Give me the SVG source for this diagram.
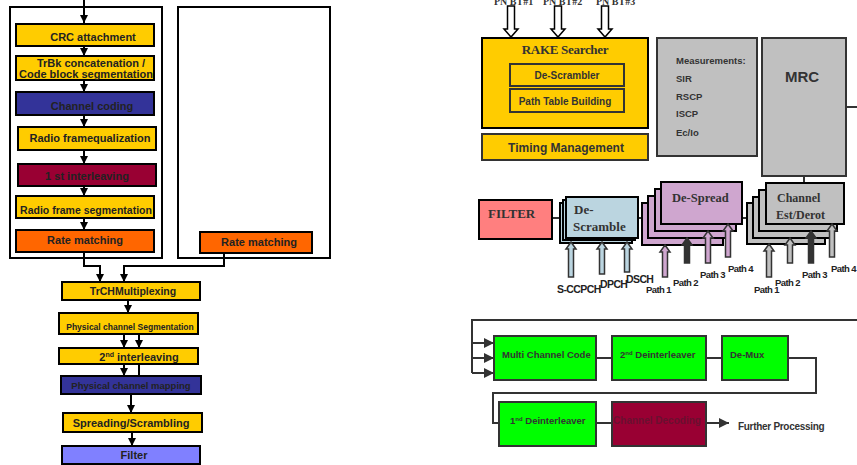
<svg xmlns="http://www.w3.org/2000/svg" width="857" height="465" viewBox="0 0 857 465">
<style>
.t{font-family:"Liberation Sans",Arial,sans-serif;font-weight:bold;fill:#222;}
.s{font-family:"Liberation Serif","Times New Roman",serif;font-weight:bold;fill:#333;}
.bx{stroke:#000;stroke-width:2;}
.gb{stroke:#333;stroke-width:2;}
.y{fill:#FFCC00;}
.db{fill:#333399;}
.mr{fill:#990033;}
.or{fill:#FF6600;}
.gr{fill:#00FF00;stroke:#333;stroke-width:2;}
.gy{fill:#C0C0C0;stroke:#333;stroke-width:2;}
.pu{fill:#CFA6CF;stroke:#000;stroke-width:2;}
.lb{fill:#BBD5E0;stroke:#000;stroke-width:2;}
.ln{fill:none;stroke:#000;stroke-width:2;}
.lg{fill:none;stroke:#333;stroke-width:2;}
.ha{fill:#fff;stroke:#000;stroke-width:1.5;}
.ua{stroke:#333;stroke-width:1.5;}
.pl{font-family:"Liberation Sans",Arial,sans-serif;font-weight:bold;fill:#222;font-size:9.5px;letter-spacing:-0.6px;}
</style>
<defs>
<marker id="ah" markerUnits="userSpaceOnUse" markerWidth="10" markerHeight="8" refX="8" refY="4" orient="auto">
<path d="M0,0 L8,4 L0,8 Z" fill="#000"/>
</marker>
<marker id="ag" markerUnits="userSpaceOnUse" markerWidth="12" markerHeight="10" refX="10" refY="5" orient="auto">
<path d="M0,0 L10,5 L0,10 Z" fill="#333"/>
</marker>
</defs>

<g id="frame-left"><rect x="10" y="7" width="152" height="251" fill="none" stroke="#000" stroke-width="2"/></g>
<g id="frame-right"><rect x="178" y="7" width="152" height="251" fill="none" stroke="#000" stroke-width="2"/></g>

<g id="connectors-left">
<line class="ln" x1="84" y1="0" x2="84" y2="23" marker-end="url(#ah)"/>
<line class="ln" x1="84" y1="46" x2="84" y2="56" marker-end="url(#ah)"/>
<line class="ln" x1="84" y1="80" x2="84" y2="92" marker-end="url(#ah)"/>
<line class="ln" x1="84" y1="115" x2="84" y2="127" marker-end="url(#ah)"/>
<line class="ln" x1="84" y1="150" x2="84" y2="164" marker-end="url(#ah)"/>
<line class="ln" x1="84" y1="186" x2="84" y2="196" marker-end="url(#ah)"/>
<line class="ln" x1="84" y1="218" x2="84" y2="230" marker-end="url(#ah)"/>
<polyline class="ln" points="84,252 84,266 100,266 100,282" marker-end="url(#ah)"/>
<polyline class="ln" points="224,253 224,266 124,266 124,282" marker-end="url(#ah)"/>
<line class="ln" x1="128" y1="300" x2="128" y2="313" marker-end="url(#ah)"/>
<line class="ln" x1="124" y1="334" x2="124" y2="348" marker-end="url(#ah)"/>
<line class="ln" x1="139" y1="334" x2="139" y2="348" marker-end="url(#ah)"/>
<line class="ln" x1="124" y1="364" x2="124" y2="376" marker-end="url(#ah)"/>
<line class="ln" x1="139" y1="364" x2="139" y2="376"/>
<line class="ln" x1="131" y1="394" x2="131" y2="413" marker-end="url(#ah)"/>
<line class="ln" x1="132" y1="432" x2="132" y2="446" marker-end="url(#ah)"/>
</g>

<g id="crc"><rect class="bx y" x="16" y="24" width="138" height="22"/><text class="t" x="93" y="41" font-size="11" text-anchor="middle">CRC attachment</text></g>
<g id="trbk"><rect class="bx y" x="16" y="56" width="138" height="24"/><text class="t" x="91" y="67" font-size="11" text-anchor="middle">TrBk concatenation /</text><text class="t" x="86" y="78" font-size="11" text-anchor="middle">Code block segmentation</text></g>
<g id="chcoding"><rect class="bx db" x="16" y="92" width="138" height="23"/><text class="t" x="92" y="110" font-size="11" text-anchor="middle">Channel coding</text></g>
<g id="rfeq"><rect class="bx y" x="18" y="127" width="138" height="23"/><text class="t" x="90" y="142" font-size="11" text-anchor="middle">Radio framequalization</text></g>
<g id="interleave1"><rect class="bx mr" x="18" y="164" width="138" height="22"/><text class="t" x="87" y="180" font-size="11" text-anchor="middle">1 st interleaving</text></g>
<g id="rfseg"><rect class="bx y" x="16" y="196" width="138" height="22"/><text class="t" x="86" y="214" font-size="10.5" text-anchor="middle">Radio frame segmentation</text></g>
<g id="rm-left"><rect class="bx or" x="16" y="230" width="138" height="22"/><text class="t" x="85" y="244" font-size="11" text-anchor="middle">Rate matching</text></g>
<g id="rm-right"><rect class="bx or" x="200" y="232" width="112" height="21"/><text class="t" x="259" y="246" font-size="11" text-anchor="middle">Rate matching</text></g>

<g id="trch"><rect class="bx y" x="62" y="282" width="138" height="18"/><text class="t" x="133" y="295" font-size="10.5" text-anchor="middle">TrCHMultiplexing</text></g>
<g id="physseg"><rect class="bx y" x="59" y="313" width="139" height="21"/><text class="t" x="130" y="330" font-size="8.5" text-anchor="middle">Physical channel Segmentation</text></g>
<g id="interleave2"><rect class="bx y" x="59" y="348" width="139" height="16"/><text class="t" x="139" y="361" font-size="11" text-anchor="middle">2<tspan font-size="7" dy="-4">nd</tspan><tspan dy="4"> interleaving</tspan></text></g>
<g id="physmap"><rect class="bx db" x="61" y="376" width="140" height="18"/><text class="t" x="131" y="389" font-size="9.5" text-anchor="middle">Physical channel mapping</text></g>
<g id="spread"><rect class="bx y" x="63" y="413" width="139" height="19"/><text class="t" x="131" y="427" font-size="11" text-anchor="middle">Spreading/Scrambling</text></g>
<g id="filter-left"><rect class="bx" fill="#8080FF" x="62" y="446" width="138" height="18"/><text class="t" x="134" y="459" font-size="11" text-anchor="middle">Filter</text></g>

<g id="pn-inputs">
<text class="s" x="494" y="5" font-size="10">PN BT#1</text>
<text class="s" x="543" y="5" font-size="10">PN BT#2</text>
<text class="s" x="596" y="5" font-size="10">PN BT#3</text>
<polygon class="ha" points="507.5,6 514.5,6 514.5,29 518,29 511,37 504,29 507.5,29"/>
<polygon class="ha" points="554.5,6 561.5,6 561.5,29 565,29 558,37 551,29 554.5,29"/>
<polygon class="ha" points="601.5,6 608.5,6 608.5,29 612,29 605,37 598,29 601.5,29"/>
</g>
<g id="rake"><rect class="bx y" x="482" y="38" width="166" height="90" stroke-width="2.5"/><text class="s" x="565" y="54" font-size="13" text-anchor="middle" letter-spacing="-0.3">RAKE Searcher</text>
<rect class="gb" fill="none" x="510" y="64" width="114" height="22"/><text class="t" x="567" y="79" font-size="10" text-anchor="middle" style="fill:#333">De-Scrambler</text>
<rect class="gb" fill="none" x="510" y="89" width="114" height="23"/><text class="t" x="565" y="105" font-size="10" text-anchor="middle" style="fill:#333">Path Table Building</text></g>
<g id="timing"><rect class="gb y" x="482" y="134" width="166" height="26"/><text class="t" x="566" y="152" font-size="12" text-anchor="middle" style="fill:#333">Timing Management</text></g>
<g id="measure"><rect class="gy" x="657" y="38" width="100" height="118"/>
<text class="t" font-size="9.5" style="fill:#333"><tspan x="676" y="64">Measurements:</tspan><tspan x="676" y="82">SIR</tspan><tspan x="676" y="100">RSCP</tspan><tspan x="676" y="117">ISCP</tspan><tspan x="676" y="136">Ec/Io</tspan></text></g>
<g id="mrc"><rect class="gy" x="762" y="38" width="84" height="138"/><text class="t" x="802" y="82" font-size="15" text-anchor="middle" style="fill:#333">MRC</text></g>

<g id="connectors-right">
<line class="lg" x1="846" y1="107" x2="857" y2="107" stroke-width="3"/>
<line class="lg" x1="804" y1="176" x2="804" y2="183"/>
<line class="lg" x1="552" y1="218" x2="566" y2="218"/>
<line class="lg" x1="638" y1="218" x2="648" y2="218"/>
<line class="lg" x1="737" y1="218" x2="753" y2="218"/>
</g>

<g id="filter-right"><rect class="bx" fill="#FF7F7F" x="479" y="200" width="73" height="39"/><text class="s" x="488" y="218" font-size="13">FILTER</text></g>
<g id="descramble">
<rect class="lb" x="560" y="203" width="72" height="40"/>
<rect class="lb" x="563" y="200" width="72" height="40"/>
<rect class="lb" x="566" y="197" width="72" height="41"/>
<text class="s" x="574" y="214" font-size="13">De-</text><text class="s" x="573" y="231" font-size="13">Scramble</text></g>
<g id="despread">
<rect class="pu" x="642" y="203" width="81" height="42"/>
<rect class="pu" x="648" y="196" width="81" height="42"/>
<rect class="pu" x="655" y="189" width="81" height="42"/>
<rect class="pu" x="661" y="182" width="81" height="42"/>
<text class="s" x="672" y="202" font-size="12.5">De-Spread</text></g>
<g id="chest">
<rect class="gy" style="stroke:#000" x="747" y="203" width="78" height="41"/>
<rect class="gy" style="stroke:#000" x="753" y="197" width="78" height="41"/>
<rect class="gy" style="stroke:#000" x="759" y="190" width="78" height="41"/>
<rect class="gy" style="stroke:#000" x="766" y="183" width="78" height="41"/>
<text class="s" x="777" y="202" font-size="12">Channel</text><text class="s" x="776" y="219" font-size="12">Est/Derot</text></g>

<g id="up-arrows">
<polygon class="ua" fill="#BBD5E0" points="571,242 576,249 573.5,249 573.5,277 568.5,277 568.5,249 566,249"/>
<polygon class="ua" fill="#BBD5E0" points="602,242 607,249 604.5,249 604.5,274 599.5,274 599.5,249 597,249"/>
<polygon class="ua" fill="#BBD5E0" points="627,242 632,249 629.5,249 629.5,272 624.5,272 624.5,249 622,249"/>
<polygon class="ua" fill="#CFA6CF" points="665,245 670,252 667.5,252 667.5,277 662.5,277 662.5,252 660,252"/>
<polygon class="ua" fill="#333" points="687,238 692,245 689.5,245 689.5,263 684.5,263 684.5,245 682,245"/>
<polygon class="ua" fill="#CFA6CF" points="708,231 713,238 710.5,238 710.5,263 705.5,263 705.5,238 703,238"/>
<polygon class="ua" fill="#CFA6CF" points="728,224 733,231 730.5,231 730.5,257 725.5,257 725.5,231 723,231"/>
<polygon class="ua" fill="#C0C0C0" points="769,244 774,251 771.5,251 771.5,277 766.5,277 766.5,251 764,251"/>
<polygon class="ua" fill="#C0C0C0" points="790,238 795,245 792.5,245 792.5,263 787.5,263 787.5,245 785,245"/>
<polygon class="ua" fill="#333" points="811,231 816,238 813.5,238 813.5,263 808.5,263 808.5,238 806,238"/>
<polygon class="ua" fill="#C0C0C0" points="832,224 837,231 834.5,231 834.5,257 829.5,257 829.5,231 827,231"/>
</g>
<g id="up-labels">
<text class="pl" x="557" y="293" style="font-size:10.5px">S-CCPCH</text>
<text class="pl" x="600" y="288" style="font-size:10.5px">DPCH</text>
<text class="pl" x="626" y="283" style="font-size:10.5px">DSCH</text>
<text class="pl" x="646" y="293">Path  1</text>
<text class="pl" x="673" y="286">Path 2</text>
<text class="pl" x="700" y="278">Path 3</text>
<text class="pl" x="728" y="272">Path 4</text>
<text class="pl" x="754" y="293">Path  1</text>
<text class="pl" x="775" y="286">Path 2</text>
<text class="pl" x="802" y="278">Path 3</text>
<text class="pl" x="831" y="272">Path 4</text>
</g>

<g id="connectors-bottom">
<polyline class="lg" points="857,320 472,320 472,373"/>
<line class="lg" x1="472" y1="343" x2="494" y2="343" marker-end="url(#ag)" stroke-width="3"/>
<line class="lg" x1="472" y1="358" x2="494" y2="358" marker-end="url(#ag)"/>
<line class="lg" x1="472" y1="373" x2="494" y2="373" marker-end="url(#ag)" stroke-width="3"/>
<line class="lg" x1="596" y1="358" x2="612" y2="358"/>
<line class="lg" x1="706" y1="358" x2="722" y2="358"/>
<polyline class="lg" points="788,358 816,358 816,393 493,393 493,423 499,423"/>
<line class="lg" x1="596" y1="423" x2="612" y2="423"/>
<line class="lg" x1="706" y1="423" x2="729" y2="423" marker-end="url(#ag)"/>
</g>
<g id="mcc"><rect class="gr" x="494" y="336" width="102" height="44"/><text class="t" x="502" y="358" font-size="9.5" style="fill:#333">Multi Channel Code</text></g>
<g id="deint2"><rect class="gr" x="612" y="336" width="94" height="44"/><text class="t" x="620" y="358" font-size="9.5" style="fill:#333">2<tspan font-size="6" dy="-3">nd</tspan><tspan dy="3"> Deinterleaver</tspan></text></g>
<g id="demux"><rect class="gr" x="722" y="336" width="66" height="44"/><text class="t" x="730" y="358" font-size="9.5" style="fill:#333">De-Mux</text></g>
<g id="deint1"><rect class="gr" x="499" y="402" width="97" height="44"/><text class="t" x="510" y="424" font-size="9.5" style="fill:#333">1<tspan font-size="6" dy="-3">nd</tspan><tspan dy="3"> Deinterleaver</tspan></text></g>
<g id="chdec"><rect fill="#990033" stroke="#333" stroke-width="2" x="612" y="402" width="94" height="44"/><text class="t" x="657" y="424" font-size="10" text-anchor="middle" style="fill:#6A1030">Channel Decoding</text></g>
<g id="further"><text class="t" x="738" y="430" font-size="10" style="fill:#333" letter-spacing="-0.3">Further Processing</text></g>
</svg>
